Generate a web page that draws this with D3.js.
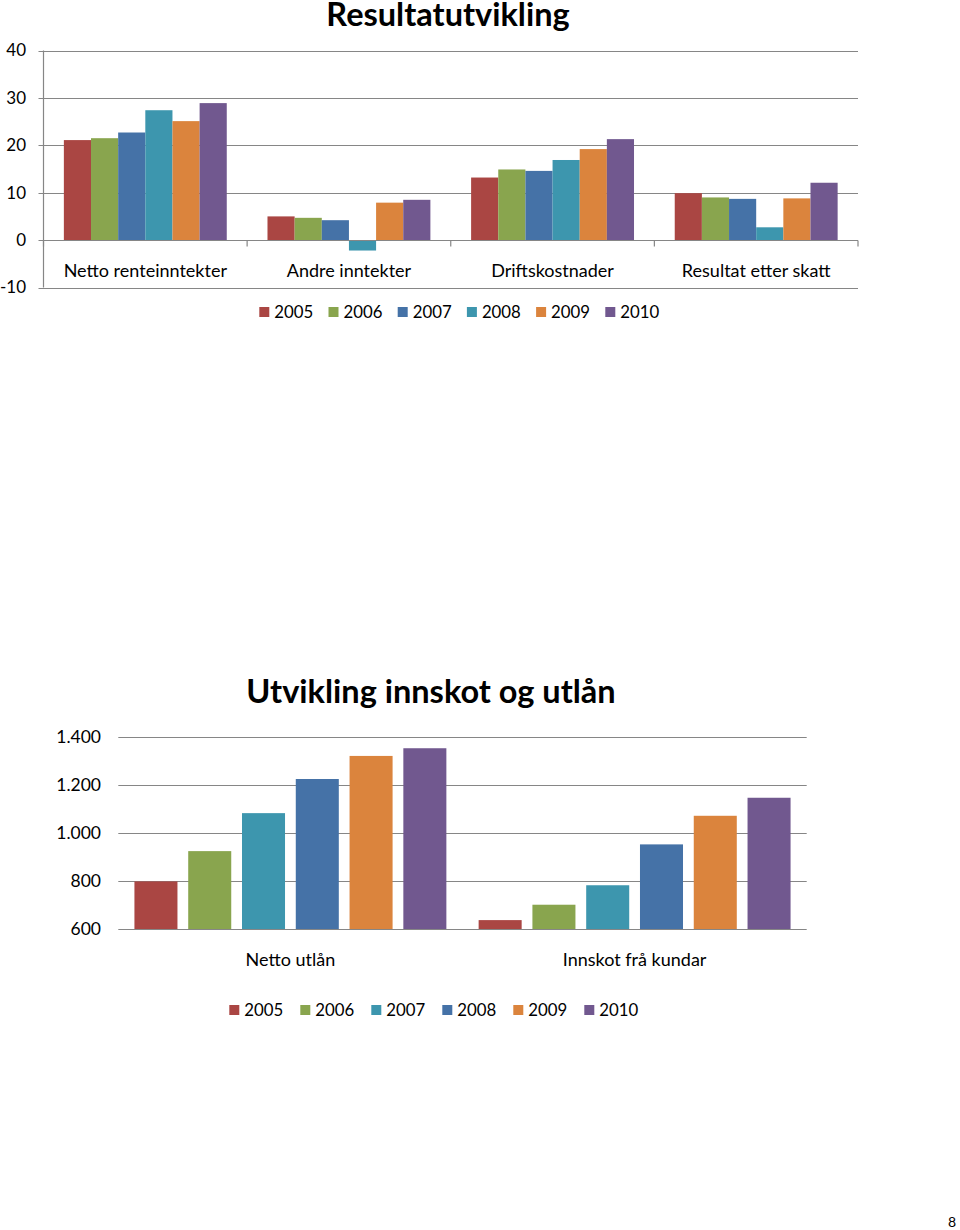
<!DOCTYPE html>
<html><head><meta charset="utf-8">
<script src="https://cdn.jsdelivr.net/npm/d3@7"></script>
<style>
body{margin:0;background:#fff;}
svg text{font-family:Lato,"Open Sans",sans-serif;fill:#000;}
</style></head>
<body>
<svg id="c" width="960" height="1230"></svg>
<script>
// ---- Data: chart 1 ----
const years1 = ["2005","2006","2007","2008","2009","2010"];
const categories1 = ["Netto renteinntekter","Andre inntekter","Driftskostnader","Resultat etter skatt"];
const s2005 = [21.1, 5.0, 13.2, 9.9];
const s2006 = [21.5, 4.7, 14.9, 9.0];
const s2007 = [22.7, 4.2, 14.6, 8.7];
const s2008 = [27.4, -2.2, 16.9, 2.7];
const s2009 = [25.1, 7.9, 19.2, 8.8];
const s2010 = [28.9, 8.5, 21.3, 12.1];
const ticks1 = [-10, 0, 10, 20, 30, 40];
const colors1 = ["#AA4643","#89A54E","#4572A7","#3D96AE","#DB843D","#71588F"];

// ---- Data: chart 2 ----
const years2 = ["2005","2006","2007","2008","2009","2010"];
const categories2 = ["Netto utlån","Innskot frå kundar"];
const nettoUtlan = [798, 924, 1082, 1224, 1320, 1352];
const innskot = [637, 701, 782, 952, 1071, 1146];
const ticks2 = [600, 800, 1000, 1200, 1400];
const colors2 = ["#AA4643","#89A54E","#3D96AE","#4572A7","#DB843D","#71588F"];

const svg = d3.select("#c");
const grid = "#868686";
const fmt2 = v => d3.format(",")(v).replace(/,/g, ".");

// ================= Chart 1 =================
{
  const series = [s2005, s2006, s2007, s2008, s2009, s2010];
  const g = svg.append("g");
  const x0 = 43.5, x1 = 858;
  const y = d3.scaleLinear().domain([-10, 40]).range([287.5, 50.5]);
  const x = d3.scaleBand().domain(categories1).range([x0, x1]).padding(0);
  const xi = d3.scaleBand().domain(years1).range([0, x.bandwidth()]).paddingInner(0).paddingOuter(0.75);

  g.append("text").attr("x", 448).attr("y", 26).attr("text-anchor", "middle")
    .attr("font-size", 32.5).attr("font-weight", "bold").text("Resultatutvikling");

  g.selectAll("line.grid").data(ticks1.filter(t => t !== 0)).join("line")
    .attr("x1", x0 - 5).attr("x2", x1).attr("y1", d => Math.round(y(d)) + 0.5).attr("y2", d => Math.round(y(d)) + 0.5)
    .attr("stroke", grid).attr("stroke-width", 1.2);

  series.forEach((s, i) => {
    g.selectAll(null).data(categories1).join("rect")
      .attr("x", c => x(c) + xi(years1[i]))
      .attr("width", xi.bandwidth())
      .attr("y", (c, k) => y(Math.max(0, s[k])))
      .attr("height", (c, k) => Math.abs(y(s[k]) - y(0)))
      .attr("fill", colors1[i]);
  });

  g.append("line").attr("x1", x0).attr("x2", x0).attr("y1", y(40)).attr("y2", y(-10))
    .attr("stroke", grid).attr("stroke-width", 1.2);
  const yz = Math.round(y(0)) + 0.5;
  g.append("line").attr("x1", x0 - 5).attr("x2", x1).attr("y1", yz).attr("y2", yz)
    .attr("stroke", grid).attr("stroke-width", 1.2);
  const bounds = categories1.map(c => x(c)).concat([x1]);
  g.selectAll("line.ct").data(bounds).join("line")
    .attr("x1", d => d).attr("x2", d => d).attr("y1", yz).attr("y2", yz + 6)
    .attr("stroke", grid).attr("stroke-width", 1.2);

  g.selectAll("text.yt").data(ticks1).join("text")
    .attr("x", 26).attr("y", d => y(d)).attr("dy", "0.35em").attr("text-anchor", "end")
    .attr("font-size", 17).text(d => d);

  g.selectAll("text.cat").data(categories1).join("text")
    .attr("x", c => x(c) + x.bandwidth() / 2).attr("y", 271).attr("dy", "0.35em")
    .attr("text-anchor", "middle").attr("font-size", 18).text(c => c);

  const lg = g.append("g");
  years1.forEach((yr, i) => {
    const lx = 259.3 + i * 69.2;
    lg.append("rect").attr("x", lx).attr("y", 307).attr("width", 10).attr("height", 10).attr("fill", colors1[i]);
    lg.append("text").attr("x", lx + 15).attr("y", 312).attr("dy", "0.35em").attr("font-size", 16.8).text(yr);
  });
}

// ================= Chart 2 =================
{
  const series = [0,1,2,3,4,5].map(i => [nettoUtlan[i], innskot[i]]);
  const g = svg.append("g");
  const x0 = 118.3, x1 = 806.7;
  const y = d3.scaleLinear().domain([600, 1400]).range([929, 736.7]);
  const x = d3.scaleBand().domain(categories2).range([x0, x1]).padding(0);
  const xi = d3.scaleBand().domain(years2).range([0, x.bandwidth()]).paddingInner(0.2).paddingOuter(0.3);

  g.append("text").attr("x", 431).attr("y", 703).attr("text-anchor", "middle")
    .attr("font-size", 32.5).attr("font-weight", "bold").text("Utvikling innskot og utlån");

  g.selectAll("line.grid").data(ticks2.filter(t => t !== 600)).join("line")
    .attr("x1", x0).attr("x2", x1).attr("y1", d => Math.round(y(d)) + 0.5).attr("y2", d => Math.round(y(d)) + 0.5)
    .attr("stroke", grid).attr("stroke-width", 1.2);

  series.forEach((s, i) => {
    g.selectAll(null).data(categories2).join("rect")
      .attr("x", c => x(c) + xi(years2[i]))
      .attr("width", xi.bandwidth())
      .attr("y", (c, k) => y(s[k]))
      .attr("height", (c, k) => y(600) - y(s[k]))
      .attr("fill", colors2[i]);
  });

  const yb = Math.round(y(600)) + 0.5;
  g.append("line").attr("x1", x0).attr("x2", x1).attr("y1", yb).attr("y2", yb)
    .attr("stroke", grid).attr("stroke-width", 1.2);

  g.selectAll("text.yt").data(ticks2).join("text")
    .attr("x", 101).attr("y", d => y(d)).attr("dy", "0.35em").attr("text-anchor", "end")
    .attr("font-size", 17.5).text(d => fmt2(d));

  g.selectAll("text.cat").data(categories2).join("text")
    .attr("x", c => x(c) + x.bandwidth() / 2).attr("y", 960).attr("dy", "0.35em")
    .attr("text-anchor", "middle").attr("font-size", 18).text(c => c);

  const lg = g.append("g");
  years2.forEach((yr, i) => {
    const lx = 229.3 + i * 71;
    lg.append("rect").attr("x", lx).attr("y", 1005).attr("width", 10).attr("height", 10).attr("fill", colors2[i]);
    lg.append("text").attr("x", lx + 15).attr("y", 1010).attr("dy", "0.35em").attr("font-size", 16.8).text(yr);
  });
}

svg.append("text").attr("x", 952).attr("y", 1222).attr("dy", "0.35em").attr("text-anchor", "middle")
  .attr("font-size", 14).text("8");
</script>
</body></html>
